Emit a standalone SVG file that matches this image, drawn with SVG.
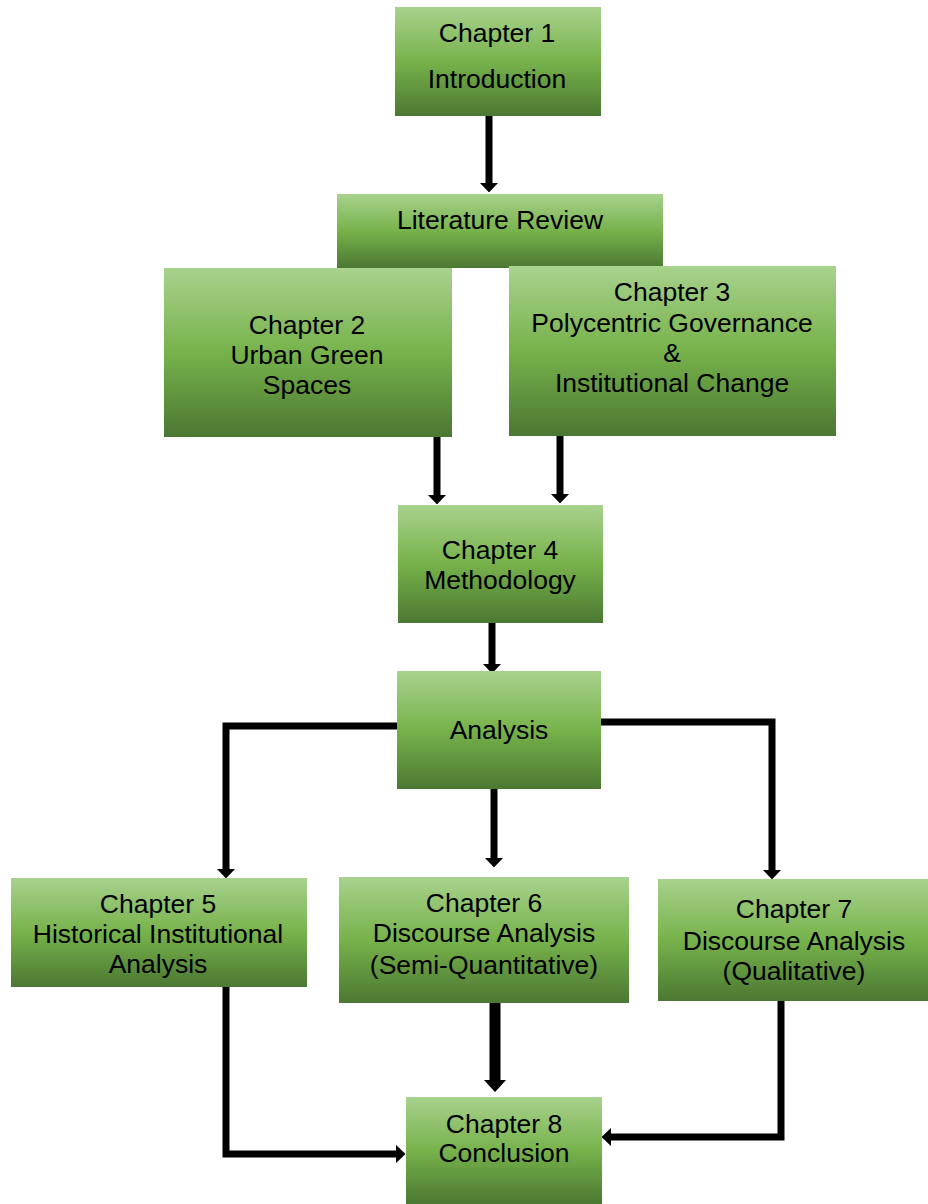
<svg xmlns="http://www.w3.org/2000/svg" width="928" height="1204" viewBox="0 0 928 1204">
<style>
.box{fill:url(#g)}
text{font-family:"Liberation Sans",Arial,sans-serif;font-size:26.5px;fill:#000;text-anchor:middle}
.c{fill:none;stroke:#000;stroke-width:7;stroke-linejoin:miter;marker-end:url(#ah)}
.t{stroke-width:11;marker-end:url(#ah2)}
</style>
<defs>
<linearGradient id="g" x1="0" y1="0" x2="0" y2="1">
<stop offset="0" stop-color="#a8d28d"/>
<stop offset="0.5" stop-color="#77b24b"/>
<stop offset="1" stop-color="#4b7832"/>
</linearGradient>
<marker id="ah" viewBox="0 0 10 10" refX="0" refY="5" markerWidth="1.35" markerHeight="2.6" orient="auto" preserveAspectRatio="none">
<path d="M0,0 L10,5 L0,10 z" fill="#000"/>
</marker>
<marker id="ah2" viewBox="0 0 10 10" refX="0" refY="5" markerWidth="1.1" markerHeight="2.0" orient="auto" preserveAspectRatio="none">
<path d="M0,0 L10,5 L0,10 z" fill="#000"/>
</marker>
</defs>
<g id="connectors">
<path class="c" d="M489,115 V183"/>
<path class="c" d="M437,436 V495"/>
<path class="c" d="M560,436 V494"/>
<path class="c" d="M492,623 V664"/>
<path class="c" d="M397,726 H226 V869"/>
<path class="c" d="M601,722 H772 V870"/>
<path class="c" d="M494,789 V858"/>
<path class="c t" d="M495,1003 V1080"/>
<path class="c" d="M226,987 V1154 H396"/>
<path class="c" d="M781,988 V1137 H611"/>
</g>
<g id="ch1"><rect class="box" x="395" y="7" width="206" height="109"/>
<text x="497" y="42">Chapter 1</text><text x="497" y="88">Introduction</text></g>
<g id="lit"><rect class="box" x="337" y="194" width="326" height="74"/>
<text x="500" y="229">Literature Review</text></g>
<g id="ch2"><rect class="box" x="164" y="268" width="288" height="169"/>
<text x="307" y="334">Chapter 2</text><text x="307" y="364">Urban Green</text><text x="307" y="394">Spaces</text></g>
<g id="ch3"><rect class="box" x="509" y="266" width="327" height="170"/>
<text x="672" y="301">Chapter 3</text><text x="672" y="332">Polycentric Governance</text><text x="672" y="362">&amp;</text><text x="672" y="392">Institutional Change</text></g>
<g id="ch4"><rect class="box" x="398" y="505" width="205" height="118"/>
<text x="500" y="559">Chapter 4</text><text x="500" y="589">Methodology</text></g>
<g id="analysis"><rect class="box" x="397" y="671" width="204" height="118"/>
<text x="499" y="739">Analysis</text></g>
<g id="ch5"><rect class="box" x="11" y="878" width="296" height="109"/>
<text x="158" y="913">Chapter 5</text><text x="158" y="943">Historical Institutional</text><text x="158" y="973">Analysis</text></g>
<g id="ch6"><rect class="box" x="339" y="877" width="290" height="126"/>
<text x="484" y="912">Chapter 6</text><text x="484" y="942">Discourse Analysis</text><text x="484" y="974">(Semi-Quantitative)</text></g>
<g id="ch7"><rect class="box" x="658" y="879" width="270" height="122"/>
<text x="794" y="918">Chapter 7</text><text x="794" y="950">Discourse Analysis</text><text x="794" y="980">(Qualitative)</text></g>
<g id="ch8"><rect class="box" x="406" y="1097" width="196" height="107"/>
<text x="504" y="1133">Chapter 8</text><text x="504" y="1162">Conclusion</text></g>
</svg>
